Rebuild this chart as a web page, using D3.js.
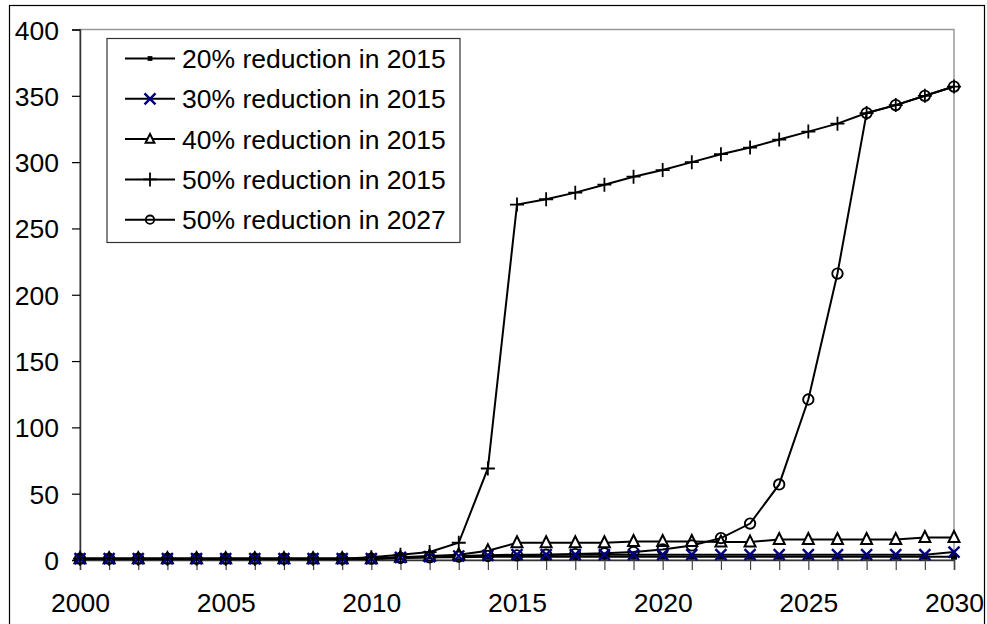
<!DOCTYPE html>
<html>
<head>
<meta charset="utf-8">
<script src="https://cdn.jsdelivr.net/npm/d3@7"></script>
<style>
  html, body { margin: 0; padding: 0; background: #fff; }
  svg { display: block; font-family: "Liberation Sans", Arial, sans-serif; }
</style>
</head>
<body>
<svg id="chart" width="987" height="624"></svg>
<script>
// Years on the horizontal axis
const years = d3.range(2000, 2031);

// Series values, one per year 2000–2030
const red20in2015 = [1,1,1,1,1,1,1,1,1,1,1,1.5,2,2,2.5,2.5,2.5,2.5,2.5,2.5,2.5,2.5,2.5,2.5,2.5,2.5,2.5,2.5,2.5,2.5,2.5];
const red30in2015 = [1,1,1,1,1,1,1,1,1,1,1,2,2.5,3,3.5,4,4,4,4,4,4,4,4,4,4,4,4,4,4,4,6];
const red40in2015 = [1,1,1,1,1,1,1,1,1,1,1,2,3,4,7,13,13,13,13,14,14,14,13.5,13.5,15.5,15.5,15.5,15.5,15.5,17,17];
const red50in2015 = [1,1,1,1,1,1,1,1,1,1,2,4,6,13,69,268,272,277,283,289,294,300,306,311,317,323,329,337,343,350,357];
const red50in2027 = [1,1,1,1,1,1,1,1,1,1,1,1.5,2,2.5,3,3.5,4,4.5,5,6,8,11,16.5,27.5,57,121,216,337,343,350,357];

const seriesNames = ["20% reduction in 2015","30% reduction in 2015","40% reduction in 2015","50% reduction in 2015","50% reduction in 2027"];
const yTicks = [0,50,100,150,200,250,300,350,400];
const xTicks = [2000,2005,2010,2015,2020,2025,2030];

const series = [
  {name: seriesNames[0], values: red20in2015, marker: "square"},
  {name: seriesNames[1], values: red30in2015, marker: "cross"},
  {name: seriesNames[2], values: red40in2015, marker: "triangle"},
  {name: seriesNames[3], values: red50in2015, marker: "plus"},
  {name: seriesNames[4], values: red50in2027, marker: "circle"}
];

const svg = d3.select("#chart");
const plotLeft = 80, plotRight = 954, plotTop = 29.5, plotBottom = 560;
const fontSize = 26.5;

const x = d3.scaleLinear().domain([2000, 2030]).range([plotLeft, plotRight]);
const y = d3.scaleLinear().domain([0, 400]).range([plotBottom, plotTop]);

// Outer chart frame
svg.append("rect")
  .attr("x", 9.5).attr("y", 5.5).attr("width", 975).attr("height", 700)
  .attr("fill", "#fff").attr("stroke", "#000").attr("stroke-width", 1.2);

// Plot area border (grey)
svg.append("rect")
  .attr("x", plotLeft).attr("y", plotTop).attr("width", plotRight - plotLeft).attr("height", plotBottom - plotTop)
  .attr("fill", "none").attr("stroke", "#999").attr("stroke-width", 1.5);

// Y axis
const yAxis = d3.axisLeft(y).tickValues(yTicks).tickSize(8).tickPadding(13).tickFormat(d3.format("d"));
const gy = svg.append("g").attr("transform", `translate(${plotLeft},0)`).call(yAxis);
gy.select(".domain").attr("stroke", "#333").attr("stroke-width", 1.5);
gy.selectAll(".tick line").attr("stroke", "#000").attr("stroke-width", 1.2);
gy.selectAll(".tick text")
  .attr("font-size", fontSize).attr("fill", "#000")
  .attr("font-family", "Liberation Sans, Arial, sans-serif")
  .attr("dy", "0.36em");

// X axis at y = 0, with yearly ticks and labels every five years
const xAxis = d3.axisBottom(x).tickValues(years).tickSize(10).tickPadding(0)
  .tickFormat(d => xTicks.includes(d) ? String(d) : "");
const gx = svg.append("g").attr("transform", `translate(0,${plotBottom})`).call(xAxis);
gx.select(".domain").attr("stroke", "#333").attr("stroke-width", 1.5);
gx.selectAll(".tick line").attr("stroke", "#444").attr("stroke-width", 1.2);
gx.selectAll(".tick text")
  .attr("font-size", fontSize).attr("fill", "#000")
  .attr("font-family", "Liberation Sans, Arial, sans-serif")
  .attr("dy", null).attr("y", 51.5);

// Lines
const line = d3.line().x((d, i) => x(years[i])).y(d => y(d));
const plot = svg.append("g");
series.forEach(s => {
  plot.append("path")
    .attr("d", line(s.values))
    .attr("fill", "none").attr("stroke", "#000").attr("stroke-width", 2);
});

// Marker painters (k scales the marker size)
function drawMarker(g, type, cx, cy, k = 1) {
  switch (type) {
    case "square": {
      const h = 3 * k;
      g.append("rect").attr("x", cx - h).attr("y", cy - h).attr("width", 2 * h).attr("height", 2 * h).attr("fill", "#000");
      break;
    }
    case "cross": {
      const h = 5.5 * k;
      g.append("path").attr("d", `M${cx-h},${cy-h}L${cx+h},${cy+h}M${cx-h},${cy+h}L${cx+h},${cy-h}`)
        .attr("stroke", "#000080").attr("stroke-width", 2.4).attr("fill", "none");
      break;
    }
    case "triangle": {
      const w = 5.5 * k;
      g.append("path").attr("d", `M${cx},${cy-6.5*k}L${cx+w},${cy+4.5*k}L${cx-w},${cy+4.5*k}Z`)
        .attr("fill", "#fff").attr("stroke", "#000").attr("stroke-width", 2);
      break;
    }
    case "plus": {
      const h = 7 * k;
      g.append("path").attr("d", `M${cx-h},${cy}L${cx+h},${cy}M${cx},${cy-h}L${cx},${cy+h}`)
        .attr("stroke", "#000").attr("stroke-width", 1.8).attr("fill", "none");
      break;
    }
    case "circle":
      g.append("circle").attr("cx", cx).attr("cy", cy).attr("r", 5.2 * k)
        .attr("fill", "none").attr("stroke", "#000").attr("stroke-width", 1.9);
      break;
  }
}

// Markers, layered: squares, triangles, circles, crosses, plus signs
const markerOrder = [0, 2, 4, 1, 3];
markerOrder.forEach(k => {
  const s = series[k];
  const g = plot.append("g");
  s.values.forEach((v, i) => drawMarker(g, s.marker, x(years[i]), y(v)));
});

// Legend
const legend = svg.append("g");
legend.append("rect")
  .attr("x", 107).attr("y", 38.5).attr("width", 353).attr("height", 204)
  .attr("fill", "#fff").attr("stroke", "#333").attr("stroke-width", 1.2);
series.forEach((s, i) => {
  const cy = 58.5 + i * 40.3;
  const g = legend.append("g");
  g.append("line").attr("x1", 125).attr("x2", 175).attr("y1", cy).attr("y2", cy)
    .attr("stroke", "#000").attr("stroke-width", 2);
  drawMarker(g, s.marker, 150, cy, s.marker === "cross" || s.marker === "plus" ? 1 : 0.8);
  g.append("text").attr("x", 182).attr("y", cy + 9.6)
    .attr("font-size", fontSize).attr("fill", "#000").text(s.name);
});
</script>
</body>
</html>
